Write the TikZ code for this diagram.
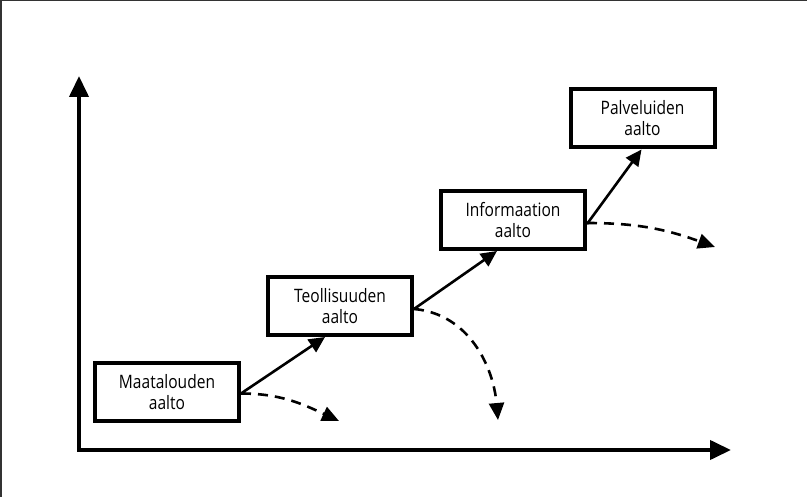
\documentclass[tikz,border=0pt]{standalone}
\usepackage{fontspec}
\setmainfont{Open Sans}[FakeStretch=0.84]
\usetikzlibrary{arrows.meta}
\begin{document}
\begin{tikzpicture}[x=1pt,y=-1pt,
  wave/.style={draw, line width=4pt, minimum width=144pt, minimum height=58pt,
    inner sep=0pt, align=center, font=\fontsize{18.5}{21}\selectfont},
  axis/.style={line width=4pt, -{Triangle[length=21pt,width=19pt]}},
  rise/.style={line width=2.6pt, -{Triangle[length=16pt,width=15pt]}},
  fade/.style={line width=2.6pt, dash pattern=on 10pt off 7pt, -{Triangle[length=17pt,width=15pt]}}]
\useasboundingbox (0,0) rectangle (807,497);
\draw[line width=1.5pt, black!80] (0.75,497) -- (0.75,0.75) -- (807,0.75);
% axes
\coordinate (O) at (79,450);
\coordinate (ytip) at (79,76);
\coordinate (xtip) at (731,450);
\draw[axis] ([yshift=2pt]O) -- (ytip);
\draw[axis] ([xshift=-2pt]O) -- (xtip);
% boxes
\node[wave] (m) at (167,392.5) {Maatalouden\\aalto};
\node[wave] (t) at (340,306) {Teollisuuden\\aalto};
\node[wave] (i) at (513,220) {Informaation\\aalto};
\node[wave] (p) at (642.5,118.5) {Palveluiden\\aalto};
% ending points of dashed arrows
\coordinate (mend) at (339,421);
\coordinate (tend) at (498,420);
\coordinate (iend) at (715,247);
% rising arrows
\draw[rise] ([yshift=-1pt]m.east) -- ([xshift=-15pt]t.south);
\draw[rise] ([yshift=-3pt]t.east) -- ([xshift=-16pt]i.south);
\draw[rise] ([yshift=-4pt]i.east) -- ([xshift=-1pt]p.south);
% fading arrows
\draw[fade] ([yshift=-1pt]m.east) to[out=0,in=155] (mend);
\draw[fade] ([yshift=-3pt]t.east) to[out=-5,in=95] (tend);
\draw[fade] ([yshift=-3pt]i.east) to[out=0,in=160] (iend);
\end{tikzpicture}
\end{document}
